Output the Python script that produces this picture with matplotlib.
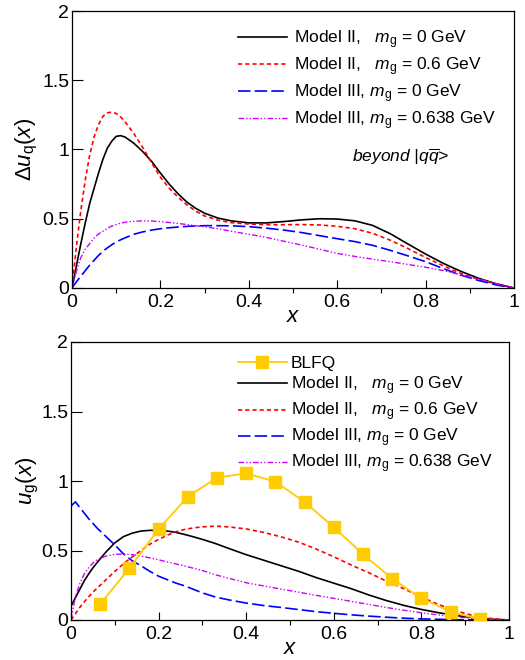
import matplotlib
matplotlib.use("Agg")
import matplotlib.pyplot as plt
from matplotlib.ticker import MultipleLocator, FuncFormatter

plt.rcParams["font.family"] = ["Liberation Sans", "DejaVu Sans"]
plt.rcParams["mathtext.fontset"] = "custom"
plt.rcParams["mathtext.rm"] = "Liberation Sans"
plt.rcParams["mathtext.it"] = "Liberation Sans:italic"
plt.rcParams["mathtext.bf"] = "Liberation Sans:bold"
plt.rcParams["lines.scale_dashes"] = False

# quark helicity distribution beyond |q qbar>
x_q = [0, 0.01, 0.02, 0.03, 0.04, 0.05, 0.06, 0.07, 0.08, 0.09, 0.10, 0.11, 0.12,
       0.14, 0.16, 0.18, 0.20, 0.22, 0.24, 0.26, 0.28, 0.30, 0.33, 0.36, 0.40, 0.44,
       0.48, 0.52, 0.56, 0.60, 0.64, 0.68, 0.72, 0.76, 0.80, 0.84, 0.88, 0.92, 0.96, 1.0]
dq_II_0 = [0, 0.16, 0.32, 0.47, 0.61, 0.72, 0.83, 0.93, 1.01, 1.06, 1.095, 1.10, 1.09,
           1.045, 0.985, 0.915, 0.83, 0.75, 0.68, 0.62, 0.575, 0.54, 0.505, 0.485, 0.47, 0.47,
           0.48, 0.492, 0.50, 0.498, 0.485, 0.452, 0.392, 0.318, 0.245, 0.178, 0.12, 0.07, 0.03, 0]
dq_II_06 = [0, 0.30, 0.56, 0.78, 0.96, 1.09, 1.18, 1.24, 1.265, 1.27, 1.26, 1.235, 1.20,
            1.115, 1.015, 0.905, 0.80, 0.72, 0.655, 0.60, 0.555, 0.52, 0.49, 0.472, 0.462, 0.457,
            0.457, 0.458, 0.455, 0.446, 0.428, 0.395, 0.345, 0.285, 0.22, 0.16, 0.105, 0.062, 0.027, 0]
dq_III_0 = [0, 0.045, 0.085, 0.125, 0.165, 0.20, 0.235, 0.265, 0.29, 0.312, 0.332, 0.348, 0.362,
            0.388, 0.405, 0.418, 0.428, 0.435, 0.44, 0.445, 0.448, 0.45, 0.45, 0.449, 0.443, 0.432,
            0.418, 0.40, 0.378, 0.356, 0.335, 0.308, 0.272, 0.232, 0.19, 0.14, 0.093, 0.054, 0.022, 0]
dq_III_0638 = [0, 0.12, 0.22, 0.28, 0.32, 0.36, 0.39, 0.41, 0.43, 0.447, 0.458, 0.468, 0.475,
               0.482, 0.485, 0.484, 0.479, 0.473, 0.466, 0.458, 0.45, 0.442, 0.428, 0.41, 0.388, 0.365,
               0.337, 0.31, 0.28, 0.25, 0.228, 0.208, 0.19, 0.17, 0.15, 0.126, 0.096, 0.065, 0.032, 0]

# gluon distribution
x_g = [0, 0.01, 0.02, 0.03, 0.04, 0.05, 0.06, 0.08, 0.10, 0.12, 0.14, 0.16, 0.18, 0.20,
       0.22, 0.24, 0.26, 0.28, 0.30, 0.33, 0.36, 0.40, 0.44, 0.48, 0.52, 0.56, 0.60, 0.64,
       0.68, 0.72, 0.76, 0.80, 0.84, 0.88, 0.92, 0.96, 1.0]
ug_II_0 = [0.10, 0.16, 0.22, 0.28, 0.33, 0.375, 0.415, 0.49, 0.555, 0.60, 0.625, 0.64, 0.645, 0.645,
           0.64, 0.63, 0.615, 0.598, 0.58, 0.55, 0.515, 0.47, 0.43, 0.39, 0.35, 0.305, 0.265, 0.225,
           0.18, 0.14, 0.105, 0.076, 0.052, 0.032, 0.016, 0.006, 0]
ug_II_06 = [0, 0.045, 0.09, 0.13, 0.165, 0.20, 0.23, 0.29, 0.35, 0.405, 0.455, 0.50, 0.545, 0.58,
            0.61, 0.635, 0.652, 0.663, 0.67, 0.675, 0.67, 0.655, 0.63, 0.598, 0.56, 0.51, 0.455, 0.395,
            0.34, 0.28, 0.225, 0.165, 0.11, 0.065, 0.03, 0.01, 0]
ug_III_0 = [0.82, 0.85, 0.81, 0.77, 0.73, 0.695, 0.66, 0.60, 0.54, 0.475, 0.425, 0.39, 0.35, 0.315,
            0.29, 0.265, 0.245, 0.22, 0.195, 0.165, 0.145, 0.122, 0.104, 0.09, 0.075, 0.06, 0.048, 0.037,
            0.028, 0.02, 0.013, 0.008, 0.005, 0.002, 0.001, 0, 0]
ug_III_0638 = [0, 0.17, 0.26, 0.33, 0.375, 0.41, 0.435, 0.46, 0.472, 0.475, 0.47, 0.46, 0.447, 0.433,
               0.418, 0.403, 0.388, 0.372, 0.356, 0.325, 0.30, 0.268, 0.245, 0.222, 0.2, 0.177, 0.156, 0.134,
               0.112, 0.09, 0.07, 0.052, 0.036, 0.022, 0.011, 0.004, 0]

x_blfq = [1/15, 2/15, 3/15, 4/15, 5/15, 6/15, 7/15, 8/15, 9/15, 10/15, 11/15, 12/15, 13/15, 14/15]
ug_blfq = [0.115, 0.372, 0.654, 0.887, 1.024, 1.055, 0.995, 0.849, 0.667, 0.473, 0.297, 0.156, 0.06, 0.005]

model_labels = [
    r"Model II,   $m_{\rm g}$ = 0 GeV",
    r"Model II,   $m_{\rm g}$ = 0.6 GeV",
    r"Model III, $m_{\rm g}$ = 0 GeV",
    r"Model III, $m_{\rm g}$ = 0.638 GeV",
]
model_styles = [
    dict(color="black", lw=1.2, ls="-"),
    dict(color="#ff0000", lw=1.2, dashes=(3, 2.2)),
    dict(color="#0000ff", lw=1.2, dashes=(9, 3)),
    dict(color="#cc00ff", lw=1.0, dashes=(4, 1.5, 1, 1.5, 1, 1.5)),
]


def style_axes(ax, ylabel, ylab_x, xlab_y):
    ax.set_xlim(0, 1)
    ax.set_ylim(0, 2)
    ax.xaxis.set_major_locator(MultipleLocator(0.2))
    ax.xaxis.set_minor_locator(MultipleLocator(0.1))
    ax.yaxis.set_major_locator(MultipleLocator(0.5))
    fmt = FuncFormatter(lambda v, _: f"{v:g}")
    ax.xaxis.set_major_formatter(fmt)
    ax.yaxis.set_major_formatter(fmt)
    ax.tick_params(direction="in", labelsize=14, top=False, right=False, width=0.8)
    ax.tick_params(axis="x", which="major", length=5.8, pad=4)
    ax.tick_params(axis="x", which="minor", length=3.6, width=0.8)
    ax.tick_params(axis="y", which="major", length=8, pad=2)
    for sp in ax.spines.values():
        sp.set_linewidth(0.9)
    ax.set_ylabel(ylabel, fontsize=16)
    ax.yaxis.set_label_coords(ylab_x, 0.5)
    ax.set_xlabel("$x$", fontsize=16)
    ax.xaxis.set_label_coords(0.5, xlab_y)
    ax.xaxis.label.set_va("center")
    ax.yaxis.label.set_va("center")


fig = plt.figure(figsize=(5.25, 6.6), dpi=100)
ax_q = fig.add_axes([72 / 525, 1 - 288 / 660, 442 / 525, 277 / 660])
ax_g = fig.add_axes([71 / 525, 40 / 660, 438 / 525, 278 / 660])

# top: quark helicity
lines_q = []
for y, st in zip([dq_II_0, dq_II_06, dq_III_0, dq_III_0638], model_styles):
    (ln,) = ax_q.plot(x_q, y, **st)
    lines_q.append(ln)
style_axes(ax_q, r"$\Delta u_{\rm q}(x)$", -0.102, -0.103)
ax_q.legend(lines_q, model_labels, loc="upper left",
            bbox_to_anchor=(238 / 525, 1 - 28 / 660), bbox_transform=fig.transFigure,
            frameon=False, fontsize=12.5, handlelength=2.8, handletextpad=0.4,
            labelspacing=0.26, borderpad=0, borderaxespad=0)
ax_q.text(0.744, 0.473, r"beyond |q$\overline{q}$>", transform=ax_q.transAxes,
          fontsize=12.5, style="italic", ha="center", va="center")

# bottom: gluon distribution
lines_g = []
for y, st in zip([ug_II_0, ug_II_06, ug_III_0, ug_III_0638], model_styles):
    (ln,) = ax_g.plot(x_g, y, **st)
    lines_g.append(ln)
(ln_blfq,) = ax_g.plot(x_blfq, ug_blfq, color="#ffcc00", lw=1.3, marker="s",
                       markersize=8, zorder=5)
style_axes(ax_g, r"$u_{\rm g}(x)$", -0.098, -0.104)
ax_g.legend([ln_blfq] + lines_g, ["BLFQ"] + model_labels, loc="upper left",
            bbox_to_anchor=(238 / 525, 1 - 356 / 660), bbox_transform=fig.transFigure,
            frameon=False, fontsize=12.5, handlelength=2.8, handletextpad=0.25,
            labelspacing=0.2, borderpad=0, borderaxespad=0, numpoints=1)

fig.savefig("out.png", dpi=100)
